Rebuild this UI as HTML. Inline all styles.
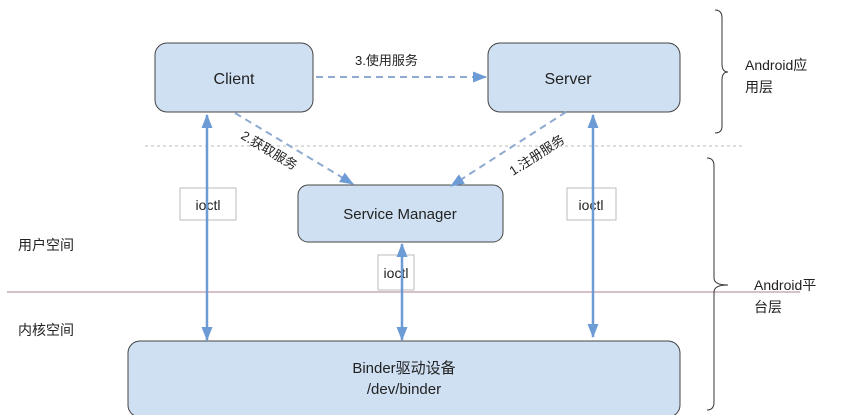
<!DOCTYPE html>
<html><head><meta charset="utf-8"><style>
body{margin:0;background:#fff;}
svg text{font-family:"Liberation Sans","Noto Sans CJK SC",sans-serif;fill:#222;}
</style></head><body>
<svg width="847" height="415" viewBox="0 0 847 415" xmlns="http://www.w3.org/2000/svg">
<defs>
<marker id="a" markerWidth="14" markerHeight="14" refX="13" refY="7" orient="auto-start-reverse" markerUnits="userSpaceOnUse">
<path d="M0,1.5 L14,7 L0,12.5 Z" fill="#6d9bd6"/></marker>
</defs>
<line x1="145" y1="146" x2="745" y2="146" stroke="#bbb" stroke-dasharray="3,3"/>
<line x1="7" y1="292" x2="800" y2="292" stroke="#d8c0c8" stroke-width="2"/>
<rect x="155" y="43" width="158" height="69" rx="12" fill="#cfe0f3" stroke="#444"/>
<text x="234" y="84" font-size="16" text-anchor="middle">Client</text>
<rect x="488" y="43" width="192" height="69" rx="12" fill="#cfe0f3" stroke="#444"/>
<text x="568" y="84" font-size="16" text-anchor="middle">Server</text>
<rect x="298" y="185" width="205" height="57" rx="10" fill="#cfe0f3" stroke="#444"/>
<text x="400" y="219" font-size="15" text-anchor="middle">Service Manager</text>
<rect x="128" y="341" width="552" height="76" rx="12" fill="#cfe0f3" stroke="#444"/>
<text x="404" y="373" font-size="15" text-anchor="middle">Binder驱动设备</text>
<text x="404" y="394" font-size="15" text-anchor="middle">/dev/binder</text>
<rect x="180" y="188" width="56" height="32" fill="#fff" stroke="#bbb"/>
<text x="208" y="210" font-size="14" text-anchor="middle">ioctl</text>
<rect x="567" y="188" width="49" height="32" fill="#fff" stroke="#bbb"/>
<text x="591" y="210" font-size="14" text-anchor="middle">ioctl</text>
<rect x="378" y="255" width="36" height="35" fill="#fff" stroke="#bbb"/>
<text x="396" y="278" font-size="14" text-anchor="middle">ioctl</text>
<g stroke="#6d9bd6" stroke-width="2.5" fill="none">
<line x1="207" y1="115" x2="207" y2="340" marker-start="url(#a)" marker-end="url(#a)"/>
<line x1="402" y1="244" x2="402" y2="340" marker-start="url(#a)" marker-end="url(#a)"/>
<line x1="593" y1="115" x2="593" y2="337" marker-start="url(#a)" marker-end="url(#a)"/>
</g>
<g stroke="#8eaad0" stroke-width="2" stroke-dasharray="7,5" fill="none">
<line x1="316" y1="77" x2="486" y2="77" marker-end="url(#a)"/>
<line x1="235" y1="113" x2="353" y2="184" marker-end="url(#a)"/>
<line x1="566" y1="112" x2="451" y2="186" marker-end="url(#a)"/>
</g>
<text x="355" y="65" font-size="13">3.使用服务</text>
<text x="0" y="0" font-size="13" transform="translate(240,138) rotate(31)">2.获取服务</text>
<text x="0" y="0" font-size="13" transform="translate(513,176) rotate(-33)">1.注册服务</text>
<g stroke="#333" fill="none" stroke-width="1">
<path d="M715,10 Q722,10 722,18 L722,64 Q722,72 728,72 Q722,72 722,80 L722,126 Q722,133 715,133"/>
<path d="M707,158 Q714,158 714,166 L714,278 Q714,285 728,285 Q714,285 714,292 L714,402 Q714,410 707,410"/>
</g>
<text x="745" y="70" font-size="14">Android应</text>
<text x="745" y="92" font-size="14">用层</text>
<text x="754" y="290" font-size="14">Android平</text>
<text x="754" y="312" font-size="14">台层</text>
<text x="18" y="250" font-size="14">用户空间</text>
<text x="18" y="335" font-size="14">内核空间</text>
</svg>
</body></html>
